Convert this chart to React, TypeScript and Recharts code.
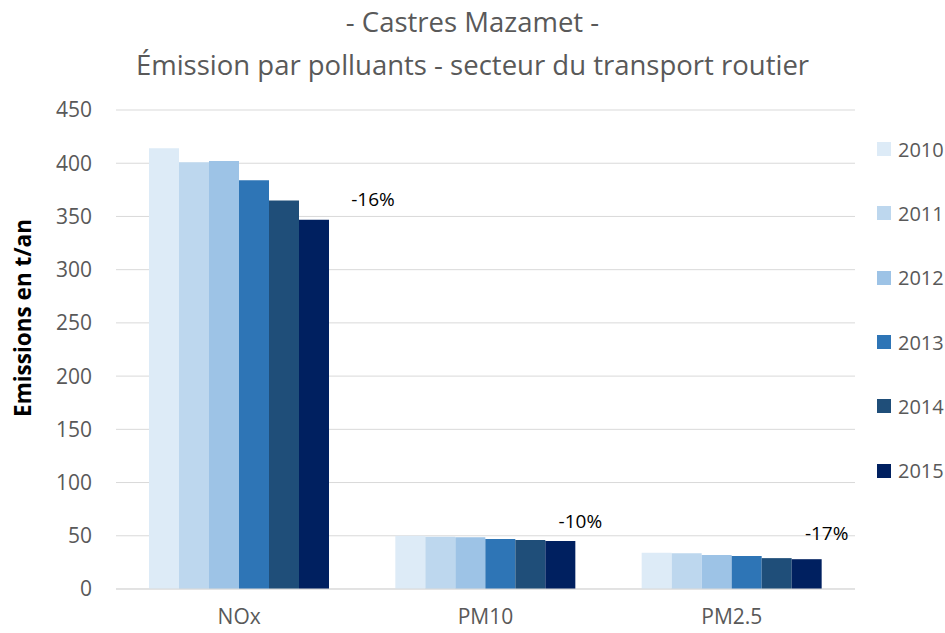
import React from "react";
import { BarChart, Bar, XAxis, YAxis, CartesianGrid, LabelList } from "recharts";

const pollutants = ["NOx", "PM10", "PM2.5"];
const years = ["2010", "2011", "2012", "2013", "2014", "2015"];
const values2010 = [414, 50, 34];
const values2011 = [401, 49, 33.5];
const values2012 = [402, 48.5, 32];
const values2013 = [384, 47, 31];
const values2014 = [365, 46, 29];
const values2015 = [347, 45, 28];
const changes = ["-16%", "-10%", "-17%"];
const yTicks = [0, 50, 100, 150, 200, 250, 300, 350, 400, 450];

const seriesValues = [values2010, values2011, values2012, values2013, values2014, values2015];
const colors = ["#DDEBF7", "#BDD7EE", "#9DC3E6", "#2E75B6", "#1F4E79", "#002060"];

const data = pollutants.map((p, i) => {
  const row: Record<string, string | number> = { name: p };
  years.forEach((y, k) => {
    row[y] = seriesValues[k][i];
  });
  return row;
});

const FONT = "'Open Sans', 'Noto Sans', sans-serif";
const GREY = "#595959";

// where the change labels sit relative to the 2015 bar
const labelShift = [
  { dx: 59, dy: -21 },
  { dx: 20, dy: -20 },
  { dx: 20, dy: -26 },
];

function ChangeLabel(props: any) {
  const { x, y, width, index } = props;
  const s = labelShift[index] || { dx: 0, dy: 0 };
  return (
    <text
      x={x + width / 2 + s.dx}
      y={y + s.dy}
      textAnchor="middle"
      dominantBaseline="central"
      fontSize={19}
      fontFamily={FONT}
      fill="#000"
    >
      {changes[index]}
    </text>
  );
}

function AxisTitle() {
  const cx = 22;
  const cy = 318;
  return (
    <text
      x={cx}
      y={cy}
      transform={`rotate(-90, ${cx}, ${cy})`}
      textAnchor="middle"
      dominantBaseline="central"
      fontSize={22.5}
      fontWeight="bold"
      fontFamily={FONT}
      fill="#000"
    >
      Emissions en t/an
    </text>
  );
}

export default function App() {
  return (
    <div style={{ position: "relative", width: 945, height: 633, background: "#fff", fontFamily: FONT }}>
      <style>{"body{margin:0}"}</style>
      <div
        style={{
          position: "absolute",
          top: 0,
          left: 0,
          width: 945,
          textAlign: "center",
          color: GREY,
          fontSize: 27.5,
          lineHeight: "43px",
        }}
      >
        <div>- Castres Mazamet -</div>
        <div>Émission par polluants - secteur du transport routier</div>
      </div>
      <BarChart
        width={945}
        height={633}
        data={data}
        margin={{ top: 110, right: 90, left: 0, bottom: 0 }}
        barSize={30}
        barGap={0}
      >
        <CartesianGrid vertical={false} stroke="#D9D9D9" />
        <XAxis
          dataKey="name"
          axisLine={{ stroke: "#D9D9D9" }}
          tickLine={false}
          height={44}
          tick={{ fontSize: 21, fill: GREY, fontFamily: FONT }}
          tickMargin={14}
        />
        <YAxis
          width={116}
          domain={[0, 450]}
          ticks={yTicks}
          axisLine={false}
          tickLine={false}
          tickMargin={18}
          tick={{ fontSize: 21, fill: GREY, fontFamily: FONT }}
          label={<AxisTitle />}
        />
        {years.map((y, k) => (
          <Bar key={y} dataKey={y} fill={colors[k]} isAnimationActive={false}>
            {k === years.length - 1 && <LabelList dataKey={y} content={<ChangeLabel />} />}
          </Bar>
        ))}
      </BarChart>
      <div style={{ position: "absolute", left: 877, top: 117 }}>
        {years.map((y, k) => (
          <div key={y} style={{ display: "flex", alignItems: "center", height: 64.3 }}>
            <span style={{ width: 14, height: 14, background: colors[k], marginRight: 7 }} />
            <span style={{ fontSize: 20, color: GREY }}>{y}</span>
          </div>
        ))}
      </div>
    </div>
  );
}
